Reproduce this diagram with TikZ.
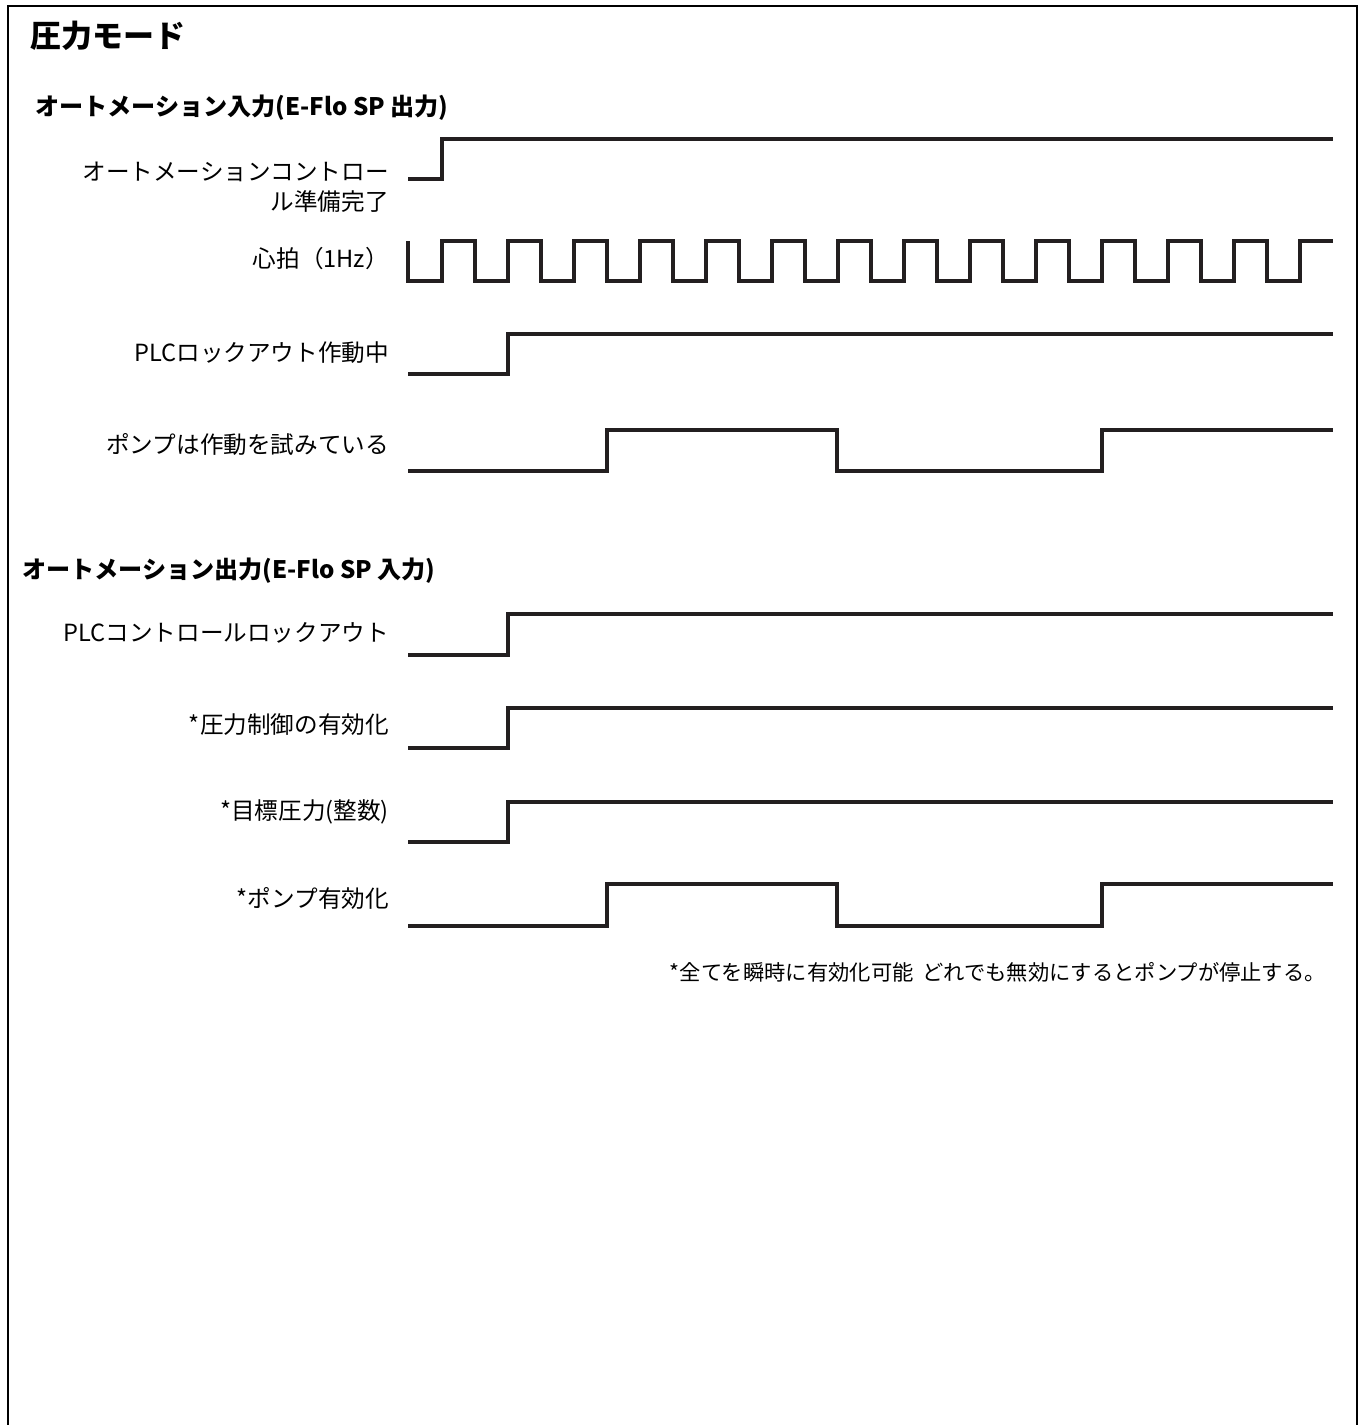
\documentclass[tikz,border=0pt]{standalone}
\usepackage{fontspec}
\setmainfont{Noto Sans CJK JP}
\begin{document}
\begin{tikzpicture}[x=1pt,y=-1pt,
  wave/.style={line width=4.4pt,draw={rgb,255:red,35;green,31;blue,32},line join=miter},
  frame/.style={line width=2.5pt,draw=black},
  lbl/.style={anchor=east,inner sep=0pt,font=\fontsize{23.6}{30}\selectfont,align=right},
  head/.style={anchor=west,inner sep=0pt,font=\fontsize{24.1}{28}\selectfont\bfseries},
  ttl/.style={anchor=west,inner sep=0pt,font=\fontsize{31}{36}\selectfont\bfseries},
  note/.style={anchor=east,inner sep=0pt,font=\fontsize{21.3}{26}\selectfont}]
\useasboundingbox (0,0) rectangle (1360,1425);
\fill[white] (0,0) rectangle (1360,1425);
% frame (open at bottom)
\draw[frame] (8,1425) -- (8,6) -- (1357,6) -- (1357,1425);

% texts
\node[ttl] (title) at (30,36) {圧力モード};
\node[head] (h1) at (35,108) {オートメーション入力(E-Flo SP 出力)};
\node[head] (h2) at (22,571) {オートメーション出力(E-Flo SP 入力)};

\node[lbl] (l1) at (389,187) {オートメーションコントロー\\ル準備完了};
\node[lbl] (l2) at (389,259) {心拍（1Hz）};
\node[lbl] (l3) at (389,353) {PLCロックアウト作動中};
\node[lbl] (l4) at (389,444) {ポンプは作動を試みている};
\node[lbl] (l5) at (389,633) {PLCコントロールロックアウト};
\node[lbl] (l6) at (389,725) {*圧力制御の有効化};
\node[lbl] (l7) at (389,812) {*目標圧力(整数)};
\node[lbl] (l8) at (389,898) {*ポンプ有効化};
\node[note] (fn) at (1326,972) {*全てを瞬時に有効化可能\hspace{0.4em}どれでも無効にするとポンプが停止する。};

% waveforms
\draw[wave] (408,179) -- (442,179) -- (442,139) -- (1333,139);
% heartbeat
\draw[wave] (408,241) -- (408,281)
  \foreach \k in {0,...,12} { -- ({442+65.98*\k},281) -- ({442+65.98*\k},241) -- ({475+65.98*\k},241) -- ({475+65.98*\k},281) }
  -- (1300,281) -- (1300,241) -- (1333,241);
\draw[wave] (408,374) -- (508,374) -- (508,334) -- (1333,334);
\draw[wave] (408,471) -- (607,471) -- (607,430) -- (837,430) -- (837,471) -- (1102,471) -- (1102,430) -- (1333,430);

\draw[wave] (408,655) -- (508,655) -- (508,614) -- (1333,614);
\draw[wave] (408,748) -- (508,748) -- (508,708) -- (1333,708);
\draw[wave] (408,842) -- (508,842) -- (508,802) -- (1333,802);
\draw[wave] (408,926) -- (607,926) -- (607,884) -- (837,884) -- (837,926) -- (1102,926) -- (1102,884) -- (1333,884);
\end{tikzpicture}
\end{document}
